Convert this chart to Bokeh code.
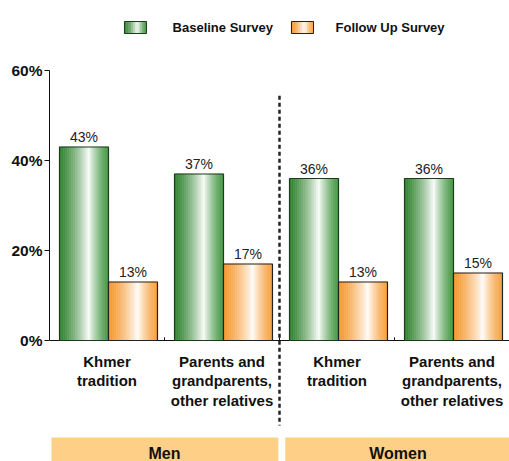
import numpy as np
from bokeh.plotting import figure
from bokeh.models import Range1d, FixedTicker, ColumnDataSource
from bokeh.core.properties import value
from bokeh.embed import file_html
from bokeh.resources import INLINE

# ---------------- data ----------------
categories = ["Khmer\ntradition", "Parents and\ngrandparents,\nother relatives",
              "Khmer\ntradition", "Parents and\ngrandparents,\nother relatives"]
groups = ["Men", "Women"]
series_names = ["Baseline Survey", "Follow Up Survey"]
baseline = [43, 37, 36, 36]
follow_up = [13, 17, 13, 15]
y_ticks = [0, 20, 40, 60]
y_tick_labels = ["0%", "20%", "40%", "60%"]

# ---------------- style ----------------
GREEN_L, GREEN_R = (52, 134, 52), (74, 154, 74)
ORANGE_L, ORANGE_R = (246, 154, 50), (248, 162, 64)
BOX = "#FECF87"
FONT = value("Liberation Sans")
NSTRIP = 24
BW = 0.426

def gradient(left, right, n, peak=0.6):
    cols = []
    for k in range(n):
        t = (k + 0.5) / n
        if t < peak:
            w, e = t / peak, left
        else:
            w, e = 1 - (t - peak) / (1 - peak), right
        w = w ** 1.4
        c = [int(round(ch + (255 - ch) * w * 0.97)) for ch in e]
        cols.append("#%02x%02x%02x" % tuple(c))
    return cols

p = figure(width=509, height=461, output_backend="svg", toolbar_location=None,
           x_range=Range1d(0, 4), y_range=Range1d(-26.89, 75.56),
           x_axis_location=None, y_axis_location="left",
           min_border_left=49, min_border_right=0, min_border_top=0, min_border_bottom=0)
p.outline_line_color = None
p.grid.visible = False
p.background_fill_color = "white"

ax = p.yaxis[0]
ax.bounds = (0, 60)
ax.ticker = FixedTicker(ticks=y_ticks, minor_ticks=[])
ax.major_label_overrides = {t: l for t, l in zip(y_ticks, y_tick_labels)}
ax.major_label_text_font = "Liberation Sans"
ax.major_label_text_font_style = "bold"
ax.major_label_text_font_size = "15.5px"
ax.major_label_text_color = "#111111"
ax.major_tick_out = 5
ax.major_tick_in = 0
ax.minor_tick_out = 0
ax.major_label_standoff = 2
ax.axis_line_color = "#111111"
ax.major_tick_line_color = "#111111"

# x axis line and small ticks
p.segment(x0=[0], y0=[0], x1=[4], y1=[0], line_color="#111111", line_width=1)
p.segment(x0=[1, 2, 3], y0=[0] * 3, x1=[1, 2, 3], y1=[0.7] * 3, line_color="#111111", line_width=1)

idx = np.arange(len(categories))
offsets = {0: 0.30, 1: 0.726}

def bars(vals, off, lc, rc, outline):
    xs, tops, cols = [], [], []
    gc = gradient(lc, rc, NSTRIP)
    for i, v in zip(idx, vals):
        left = i + off - BW / 2
        for k in range(NSTRIP):
            xs.append(left + (k + 0.5) * BW / NSTRIP)
            tops.append(v)
            cols.append(gc[k])
    src = ColumnDataSource(dict(x=xs, top=tops, c=cols))
    p.vbar(x="x", top="top", bottom=0, width=BW / NSTRIP, source=src,
           fill_color="c", line_color="c", line_width=0.6)
    p.vbar(x=idx + off, top=vals, bottom=0, width=BW, fill_color=None,
           line_color=outline, line_width=1.2)
    p.text(x=idx + off, y=vals, text=[f"{v}%" for v in vals], text_align="center",
           text_baseline="bottom", y_offset=-2, text_font=FONT, text_font_size="14px",
           text_color="#222222")

bars(baseline, offsets[0], GREEN_L, GREEN_R, "#1c3d1c")
bars(follow_up, offsets[1], ORANGE_L, ORANGE_R, "#222222")

# category labels
p.text(x=idx + 0.5, y=[-2.67] * 4, text=categories, text_align="center", text_baseline="top",
       text_font=FONT, text_font_style="bold", text_font_size="15px",
       text_line_height=1.15, text_color="#111111")

# divider between groups
p.segment(x0=[2], y0=[54.4], x1=[2], y1=[-18.9], line_color="#222222",
          line_width=2.5, line_dash="4 3")

# group boxes
p.quad(left=[0.017, 2.05], right=[1.99, 4.2], top=[-21.56, -21.56], bottom=[-32, -32],
       fill_color=BOX, line_color=None)
p.text(x=[1.0, 3.03], y=[-25.1, -25.1], text=groups, text_align="center",
       text_baseline="middle", text_font=FONT, text_font_style="bold",
       text_font_size="16px", text_color="#111111")

# legend
leg = [(0.652, 0.843, GREEN_L, GREEN_R, "#1c3d1c", 1.07),
       (2.104, 2.296, ORANGE_L, ORANGE_R, "#222222", 2.487)]
for (l, r, lc, rc, oc, tx), name in zip(leg, series_names):
    gc = gradient(lc, rc, 10)
    w = (r - l) / 10
    p.quad(left=[l + k * w for k in range(10)], right=[l + (k + 1) * w for k in range(10)],
           top=[70.89] * 10, bottom=[68.22] * 10, fill_color=gc, line_color=gc, line_width=0.5)
    p.quad(left=[l], right=[r], top=[70.89], bottom=[68.22], fill_color=None,
           line_color=oc, line_width=1)
    p.text(x=[tx], y=[69.56], text=[name], text_align="left", text_baseline="middle",
           text_font=FONT, text_font_style="bold", text_font_size="13px",
           text_color="#111111")

open("out.html", "w").write(file_html(p, INLINE))
